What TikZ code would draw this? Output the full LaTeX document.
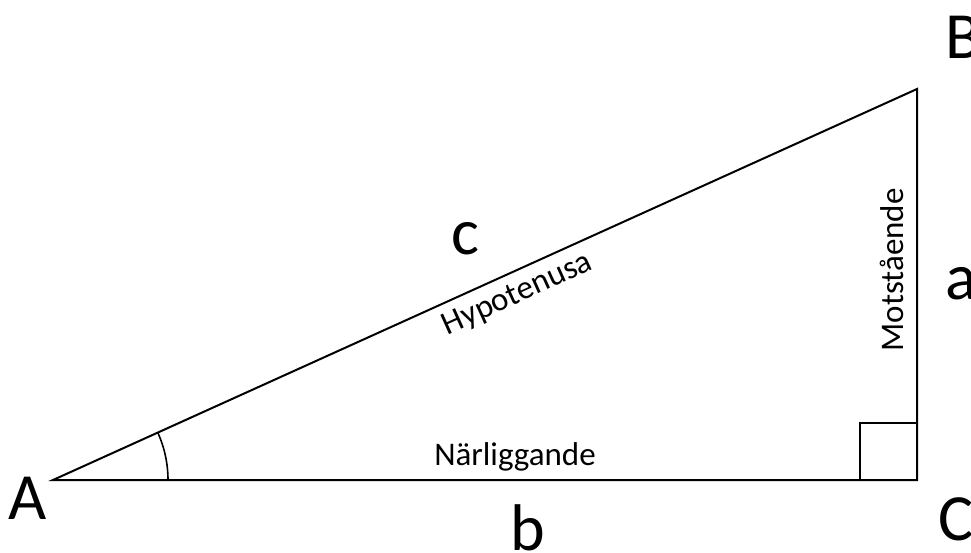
\documentclass[tikz,border=0pt]{standalone}
\usepackage{fontspec}
\setmainfont{Carlito}
\begin{document}
\begin{tikzpicture}[x=1pt,y=1pt,
  edge/.style={line width=2pt,line join=miter},
  big/.style={inner sep=0pt,font=\fontsize{66}{70}\selectfont},
  small/.style={inner sep=0pt,font=\fontsize{33}{38}\selectfont}]
\useasboundingbox (0,0) rectangle (971,552);
\coordinate (A) at (53,72);
\coordinate (B) at (917,463);
\coordinate (C) at (917,72);
\draw[edge] (A) -- (B) -- (C) -- cycle;
% right angle square
\coordinate (sq1) at (860,72);
\coordinate (sq2) at (860,129);
\coordinate (sq3) at (917,129);
\draw[line width=1.6pt] (sq1) -- (sq2) -- (sq3);
% angle arc at A
\draw[line width=1.6pt] ([xshift=115pt]A) arc[start angle=0,end angle=24.35,radius=115];
% vertex labels
\node[big,anchor=base] (lA) at (28,33) {A};
\node[big,anchor=base west] (lB) at (945,493) {B};
\node[big,anchor=base west] (lC) at (938,12) {C};
% side labels
\node[big,anchor=base west] (la) at (945,252) {a};
\node[big,anchor=base] (lb) at (528,2) {b};
\node[big,anchor=base] (lc) at (465,297) {c};
% side names
\node[small,anchor=base] (nar) at (515,87) {Närliggande};
\node[small,anchor=base,rotate=90] (mot) at (903,282) {Motstående};
\node[small,anchor=base,rotate=24.35] (hyp) at (521,250) {Hypotenusa};
\end{tikzpicture}
\end{document}
